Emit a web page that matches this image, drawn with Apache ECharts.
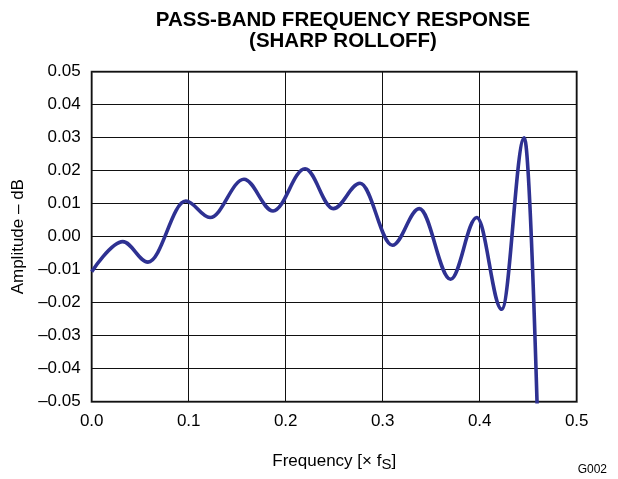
<!DOCTYPE html>
<html><head><meta charset="utf-8">
<script src="https://cdn.jsdelivr.net/npm/echarts@6/dist/echarts.min.js"></script>
<style>html,body{margin:0;padding:0;background:#fff}#c{width:618px;height:479px}</style>
</head><body><div id="c"></div>
<script>
// turning points of the response curve (frequency in × fS, amplitude in dB)
const freq = [0.000,0.032,0.058,0.097,0.122,0.157,0.187,0.220,0.249,0.2766,0.310,0.3377,0.370,0.397,0.4227,0.446,0.472];
const amp  = [-0.0106,-0.0015,-0.0077,0.0108,0.0058,0.0174,0.0078,0.0206,0.0085,0.0162,-0.0026,0.0085,-0.0129,0.0058,-0.0220,0.0300,-0.2000];
const xTicks = ['0.0','0.1','0.2','0.3','0.4','0.5'];
const yTicks = ['–0.05','–0.04','–0.03','–0.02','–0.01','0.00','0.01','0.02','0.03','0.04','0.05'];

const chart = echarts.init(document.getElementById('c'), null, {renderer:'canvas'});
const font = 'Liberation Sans, Arial, sans-serif';
chart.setOption({
  animation:false,
  backgroundColor:'#fff',
  title:{
    text:'PASS-BAND FREQUENCY RESPONSE\n(SHARP ROLLOFF)',
    left:338, top:5, textAlign:'center',
    textStyle:{fontFamily:font,fontWeight:'bold',fontSize:20.5,color:'#000',lineHeight:21}
  },
  graphic:[{type:'text',right:11,top:464,style:{text:'G002',font:'12px '+font,fill:'#000'}}],
  grid:{left:91.7,right:41.3,top:71.7,bottom:77.3,show:true,borderColor:'#333',borderWidth:2,backgroundColor:'transparent'},
  xAxis:{
    type:'value',min:0,max:0.5,interval:0.1,
    name:'Frequency [× f{sub|S}]',nameLocation:'middle',nameGap:48,
    nameTextStyle:{fontFamily:font,fontSize:17,color:'#000',rich:{sub:{fontFamily:font,fontSize:15,color:'#000',verticalAlign:'bottom',padding:[8,0,0,0]}}},
    axisLine:{show:false},axisTick:{show:false},
    axisLabel:{fontFamily:font,fontSize:17,color:'#000',margin:11,formatter:(v)=>xTicks[Math.round(v*10)]},
    splitLine:{show:true,lineStyle:{color:'#111',width:1}}
  },
  yAxis:{
    type:'value',min:-0.05,max:0.05,interval:0.01,
    name:'Amplitude – dB',nameLocation:'middle',nameGap:62,nameRotate:90,
    nameTextStyle:{fontFamily:font,fontSize:17,color:'#000'},
    axisLine:{show:false},axisTick:{show:false},
    axisLabel:{fontFamily:font,fontSize:17,color:'#000',margin:11,formatter:(v)=>yTicks[Math.round(v*100)+5]},
    splitLine:{show:true,lineStyle:{color:'#111',width:1}}
  },
  series:[{
    type:'line',data:freq.map((f,i)=>[f,amp[i]]),smooth:0.36,smoothMonotone:'x',showSymbol:false,clip:true,
    lineStyle:{color:'#2e3192',width:3.6}
  }]
});
</script></body></html>
